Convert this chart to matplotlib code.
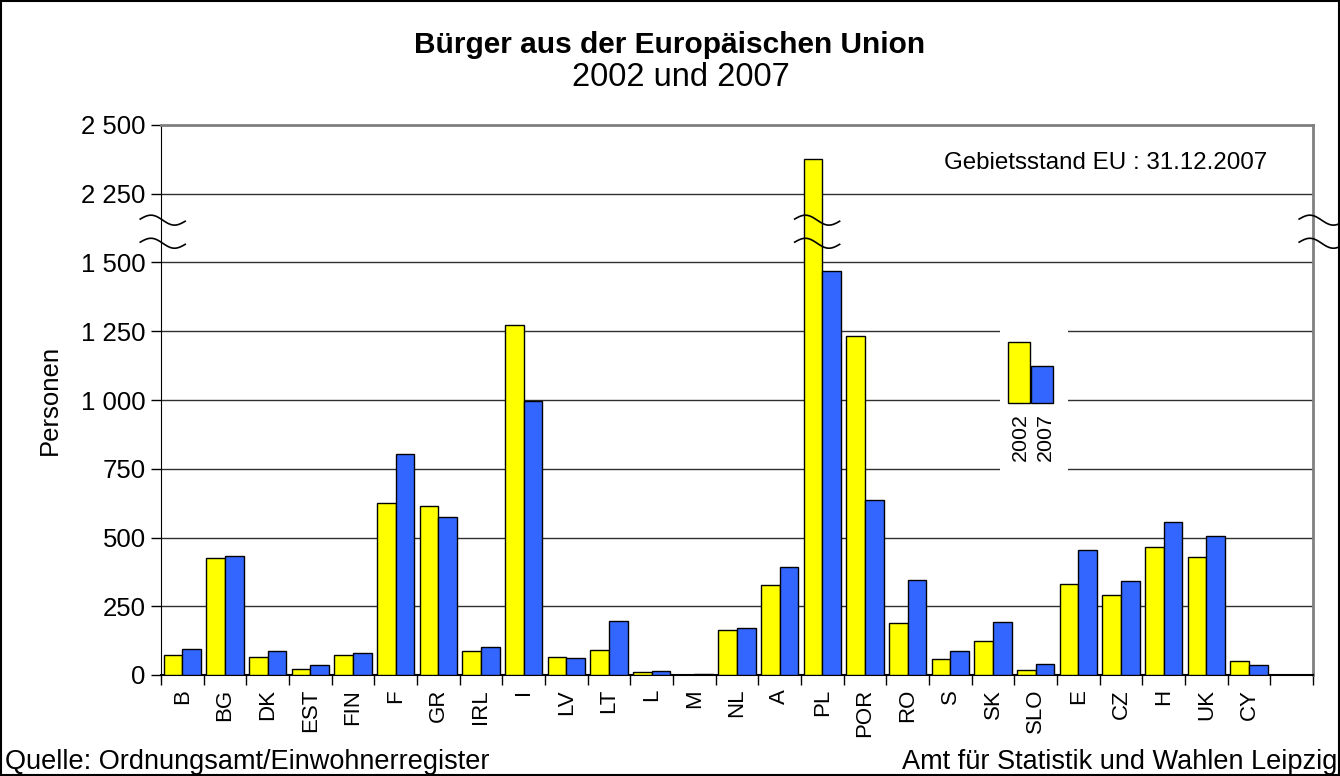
import numpy as np
import matplotlib
matplotlib.use("Agg")
import matplotlib.pyplot as plt
from matplotlib.patches import Rectangle
from matplotlib.ticker import FixedLocator, FuncFormatter

plt.rcParams['font.family'] = ['Liberation Sans', 'DejaVu Sans']

# data
countries = ["B", "BG", "DK", "EST", "FIN", "F", "GR", "IRL", "I", "LV", "LT", "L", "M",
             "NL", "A", "PL", "POR", "RO", "S", "SK", "SLO", "E", "CZ", "H", "UK", "CY"]
y2002 = [73, 427, 66, 23, 74, 627, 615, 87, 1272, 64, 91, 11, 1,
         165, 326, 2378, 1234, 190, 58, 124, 19, 330, 291, 466, 428, 50]
y2007 = [95, 433, 89, 36, 80, 805, 576, 102, 995, 62, 197, 15, 2,
         172, 394, 1468, 637, 346, 89, 192, 40, 455, 343, 556, 506, 36]
yticks = [0, 250, 500, 750, 1000, 1250, 1500, 2250, 2500]
n_slots = len(countries) + 1  # one empty slot at the right end

# broken axis: 1500..2250 squeezed into one grid step
def fwd(v):
    v = np.asarray(v, dtype=float)
    return np.where(v <= 1500, v, np.where(v < 2250, 1500 + (v - 1500) / 3.0, v - 500))

def inv(d):
    d = np.asarray(d, dtype=float)
    return np.where(d <= 1500, d, np.where(d < 1750, 1500 + (d - 1500) * 3.0, d + 500))

fig = plt.figure(figsize=(13.4, 7.76), dpi=100)
ax = fig.add_axes([161 / 1340, 1 - 675 / 776, 1152 / 1340, 550 / 776])
ax.set_yscale('function', functions=(fwd, inv))

x = np.arange(len(countries))
w = 0.44
ax.bar(x + 0.5 - w, y2002, width=w, align='edge', color='#FFFF00', edgecolor='black', lw=1, zorder=3)
ax.bar(x + 0.5, y2007, width=w, align='edge', color='#3366FF', edgecolor='black', lw=1, zorder=3)

ax.set_xlim(0, n_slots)
ax.set_ylim(0, 2500)
ax.yaxis.set_major_locator(FixedLocator(yticks))
ax.yaxis.set_minor_locator(FixedLocator([]))
ax.yaxis.set_major_formatter(FuncFormatter(lambda v, p: f"{int(round(v)):,}".replace(",", " ")))
ax.grid(axis='y', color='#303030', lw=1, zorder=0)
ax.tick_params(axis='y', labelsize=18.5, length=7, width=1, direction='out', pad=4)

ax.set_xticks(x + 0.5)
ax.set_xticklabels(countries, rotation=90, fontsize=16)
ax.set_xticks(np.arange(n_slots + 1), minor=True)
ax.tick_params(axis='x', which='major', length=0, pad=10)
ax.tick_params(axis='x', which='minor', length=7, width=1)

for s in ['top', 'right']:
    ax.spines[s].set_color('#808080')
    ax.spines[s].set_linewidth(2)
ax.spines['left'].set_color('black')
ax.spines['bottom'].set_color('black')
ax.spines['bottom'].set_linewidth(1.5)

ax.set_ylabel("Personen", fontsize=18.5, labelpad=14)

# break marks
t = np.linspace(0, 1, 60)
def wave(x0, width, yc):
    xs = x0 + t * width
    ys = yc + 0.008 * np.sin(2 * np.pi * t) - 0.004 * t
    ax.plot(xs, ys, color='black', lw=1.2, transform=ax.transAxes, clip_on=False, zorder=5)

for yc in (0.829, 0.787):
    wave(-0.018, 0.039, yc)
    pl = (countries.index("PL") + 0.5) / n_slots
    wave(pl - 0.024, 0.039, yc)
    wave(0.988, 0.039, yc)

ax.text(0.960, 0.931, "Gebietsstand EU : 31.12.2007", transform=ax.transAxes,
        ha='right', va='center', fontsize=17.4)

# legend drawn as a small inset
lg = fig.add_axes([1000 / 1340, 1 - 472 / 776, 68 / 1340, 150 / 776])
lg.set_facecolor('white')
lg.set_xlim(0, 68)
lg.set_ylim(150, 0)
lg.axis('off')
lg.add_patch(Rectangle((0, 0), 68, 150, color='white', zorder=0))
lg.add_patch(Rectangle((8, 20), 22, 61, facecolor='#FFFF00', edgecolor='black', lw=1))
lg.add_patch(Rectangle((31, 44), 22, 37, facecolor='#3366FF', edgecolor='black', lw=1))
lg.text(20, 91, "2002", rotation=90, ha='center', va='top', fontsize=15.4)
lg.text(45, 91, "2007", rotation=90, ha='center', va='top', fontsize=15.4)

fig.text(670 / 1340, 1 - 45 / 776, "Bürger aus der Europäischen Union", ha='center', va='center',
         fontsize=21.5, fontweight='bold')
fig.text(681 / 1340, 1 - 78 / 776, "2002 und 2007", ha='center', va='center', fontsize=23.5)
fig.text(5 / 1340, 1 - 762 / 776, "Quelle: Ordnungsamt/Einwohnerregister", ha='left', va='center', fontsize=19.5)
fig.text(1337 / 1340, 1 - 762 / 776, "Amt für Statistik und Wahlen Leipzig", ha='right', va='center', fontsize=19.5)

fig.patches.append(Rectangle((0.0005, 0.001), 0.999, 0.998, transform=fig.transFigure,
                             fill=False, edgecolor='black', lw=1.5))

fig.savefig("out.png", dpi=100)
